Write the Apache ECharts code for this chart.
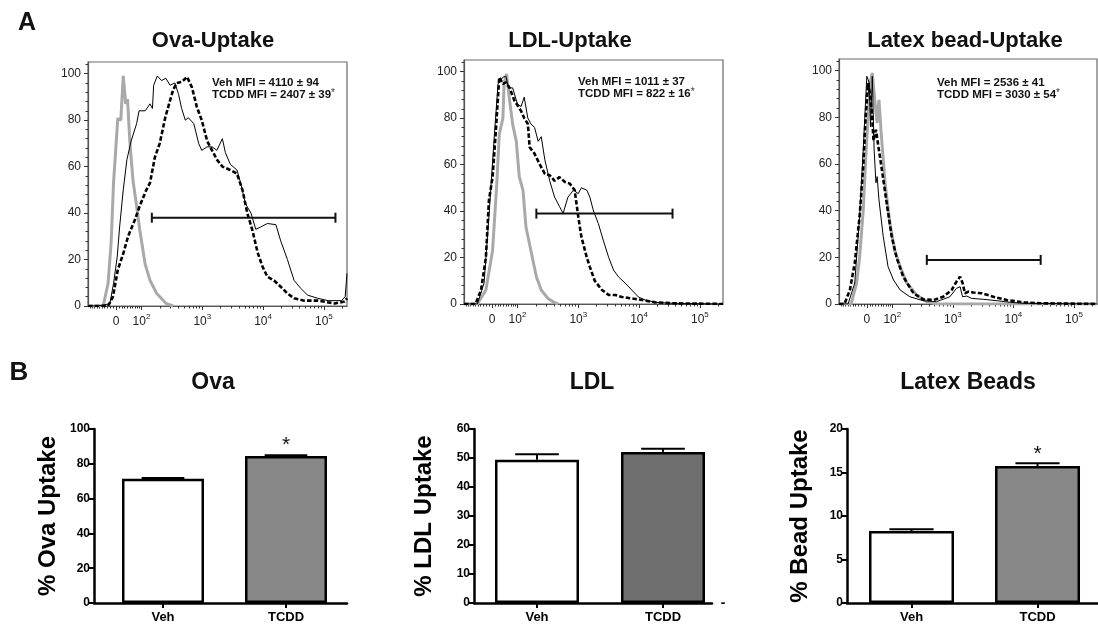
<!DOCTYPE html>
<html><head><meta charset="utf-8">
<script src="https://cdn.jsdelivr.net/npm/echarts@6.0.0/dist/echarts.min.js"></script>
<style>html,body{margin:0;padding:0;background:#fff}#c{width:1098px;height:629px}</style>
</head><body><div id="c"></div>
<script>
const FONT = '"Liberation Sans", Arial, Helvetica, sans-serif';

// ---------- Panel A: histogram data (x = display decade units, y = % of max) ----------
const histTickVals = [1.58, 2, 3, 4, 5];
const histTickLabels = ['0', '10^2', '10^3', '10^4', '10^5'];
const histYTicks = [0, 20, 40, 60, 80, 100];

const ovaCtrl = [[1.12,0],[1.37,0],[1.45,9.7],[1.50,27],[1.54,53],[1.61,80.7],[1.66,80],[1.70,99],[1.74,87],[1.77,89],[1.81,70],[1.86,54],[1.92,43],[1.97,33],[2.06,18],[2.14,11],[2.25,5.4],[2.41,1],[2.52,0]];
const ovaVeh = [[1.12,0],[1.28,0],[1.48,1],[1.54,9.7],[1.60,21],[1.64,34],[1.70,50],[1.76,63],[1.83,71],[1.92,78.5],[1.96,84],[2.06,84],[2.14,87],[2.18,85],[2.20,95],[2.26,99],[2.33,97],[2.40,98],[2.47,95],[2.55,96],[2.61,91],[2.66,85],[2.72,80],[2.77,81],[2.86,78.5],[2.94,70],[2.99,67],[3.08,68.5],[3.16,68.5],[3.24,67],[3.33,72],[3.38,66],[3.46,61],[3.57,58.5],[3.63,53],[3.71,44],[3.80,40],[3.88,33],[3.96,34],[4.07,35.5],[4.21,35],[4.29,28],[4.40,20],[4.51,11],[4.62,7.6],[4.73,4.7],[4.90,3.3],[5.07,2.3],[5.29,2.3],[5.35,4],[5.38,14]];
const ovaTcdd = [[1.12,0],[1.45,0],[1.53,4],[1.61,15.5],[1.70,22.6],[1.78,30],[1.89,37],[1.97,43],[2.08,50],[2.14,53],[2.22,64],[2.30,70],[2.39,81],[2.47,88.5],[2.52,93],[2.58,96],[2.66,96.4],[2.75,98.6],[2.83,94],[2.91,85.7],[2.99,80],[3.08,71],[3.16,67],[3.24,63],[3.33,60],[3.46,58.5],[3.57,57],[3.66,50],[3.74,40],[3.82,33],[3.91,23],[3.99,17],[4.07,12.6],[4.18,11],[4.29,8.3],[4.40,5.4],[4.51,3.3],[4.68,2.3],[4.90,2.3],[5.18,1.1],[5.34,1.9],[5.38,3.3]];
const ovaGate = [2.17, 5.19, 38];
const ovaMfi = ['Veh MFI = 4110 ± 94', 'TCDD MFI = 2407 ± 39'];

const ldlCtrl = [[1.12,0],[1.34,0],[1.48,6],[1.59,23],[1.66,52],[1.70,73],[1.76,80],[1.78,95],[1.82,99],[1.87,87.5],[1.92,77.5],[1.98,70],[2.03,54.6],[2.09,49],[2.14,33],[2.22,23],[2.31,11.7],[2.39,6],[2.50,2.4],[2.61,0.6],[2.67,0]];
const ldlVeh = [[1.12,0],[1.34,0],[1.45,9],[1.53,37.5],[1.62,73],[1.68,94.7],[1.76,97.6],[1.81,98],[1.85,93],[1.92,93],[2.00,86],[2.06,85],[2.11,89],[2.17,80],[2.22,77.5],[2.28,76],[2.34,70],[2.39,72],[2.45,62],[2.53,53],[2.61,46],[2.69,42],[2.75,39],[2.83,46],[2.92,49],[3.00,47.5],[3.05,50],[3.14,49],[3.19,46],[3.25,40],[3.33,34.6],[3.41,27.5],[3.50,20],[3.58,14.6],[3.66,11.7],[3.77,9],[3.88,6],[3.99,3],[4.10,1.7],[4.27,0.7],[4.55,0.3],[5.38,0]];
const ldlTcdd = [[1.12,0],[1.31,0],[1.40,6],[1.48,20],[1.53,44.6],[1.59,54.6],[1.64,73],[1.70,97.6],[1.76,94.7],[1.81,95.4],[1.87,93],[1.95,87.5],[2.06,83],[2.11,80],[2.17,77.5],[2.20,67.5],[2.28,64.7],[2.36,60.4],[2.45,56],[2.53,55.4],[2.61,53],[2.69,54.6],[2.78,52.5],[2.86,51.8],[2.94,49],[3.00,37.5],[3.05,29],[3.14,20],[3.19,16],[3.27,10],[3.39,6],[3.50,3.9],[3.61,3.9],[3.72,3],[3.88,2.4],[4.05,1.7],[4.27,0.7],[4.55,0.3],[5.38,0]];
const ldlGate = [2.31, 4.55, 38.9];
const ldlMfi = ['Veh MFI = 1011 ± 37', 'TCDD MFI = 822 ± 16'];

const latexCtrl = [[1.12,0],[1.32,0],[1.41,9],[1.46,20],[1.52,40],[1.56,62],[1.60,80],[1.63,94.7],[1.67,99],[1.71,87.5],[1.75,77.5],[1.78,87.5],[1.82,72],[1.88,52],[1.96,34.6],[2.04,23],[2.13,16],[2.24,9],[2.40,3.9],[2.57,1],[2.73,0],[5.38,0]];
const latexVeh = [[1.12,0],[1.27,0],[1.38,9],[1.46,37.5],[1.52,66],[1.56,87.5],[1.58,97.6],[1.62,94.7],[1.64,76],[1.67,97.6],[1.70,66],[1.73,52],[1.75,54.6],[1.78,44.6],[1.85,29],[1.93,16],[2.02,10.3],[2.13,6],[2.29,3.1],[2.51,1.4],[2.73,1],[2.95,3.1],[3.06,6.7],[3.12,7.4],[3.16,3.1],[3.23,3.4],[3.31,2.4],[3.51,2],[3.73,1.4],[3.95,0.7],[4.17,0.3],[5.38,0]];
const latexTcdd = [[1.12,0],[1.21,0],[1.30,6],[1.38,17.5],[1.46,37.5],[1.52,59],[1.56,80],[1.60,94.7],[1.63,90.4],[1.66,83],[1.69,70],[1.73,74.7],[1.77,67.5],[1.82,59],[1.90,44.6],[1.99,29],[2.07,20],[2.18,11.7],[2.35,4.6],[2.51,2],[2.68,1.7],[2.84,3.1],[2.98,6],[3.06,9.6],[3.12,11.7],[3.16,9],[3.20,4.6],[3.26,5.3],[3.34,4.9],[3.48,4.6],[3.67,3.1],[3.89,1.7],[4.17,0.7],[4.45,0.3],[5.38,0]];
const latexGate = [2.57, 4.45, 18.9];
const latexMfi = ['Veh MFI = 2536 ± 41', 'TCDD MFI = 3030 ± 54'];

// ---------- Panel B: bar data ----------
const barCats = ['Veh', 'TCDD'];
const ovaPct = [71.4, 84.5];
const ovaErr = [0.4, 0.4];
const ovaSig = [false, true];
const ldlPct = [49.4, 52.1];
const ldlErr = [1.9, 1.1];
const ldlSig = [false, false];
const beadPct = [8.28, 15.75];
const beadErr = [0.2, 0.3];
const beadSig = [false, true];

// ---------- axis decorations ----------
const HX_MIN = 1.12, HX_MAX = 5.38;
const histMinorTicks = [];
[-90,-80,-70,-60,-50,-40,-30,-20,-10,10,20,30,40,50,60,70,80,90].forEach(v => {
  histMinorTicks.push(1.58 + Math.asinh(v / 88.9) / Math.LN10);
});
[2,3,4,5].forEach(k => { for (let m = 2; m <= 9; m++) { const u = k + Math.log10(m); if (u < HX_MAX) histMinorTicks.push(u); } });
histMinorTicks.push(1.16);
const histYMinor = [];
for (let v = 4; v <= 104; v += 4) if (v % 20 !== 0) histYMinor.push(v);

const grids = [], xAxes = [], yAxes = [], series = [], graphics = [];

function fmtHistX(v) {
  let i = -1;
  histTickVals.forEach((t, k) => { if (Math.abs(t - v) < 1e-6) i = k; });
  if (i < 0) return '';
  const lab = histTickLabels[i];
  if (lab.indexOf('^') < 0) return '{n|' + lab + '}';
  const p = lab.split('^');
  return '{n|' + p[0] + '}{s|' + p[1] + '}';
}

function addHist(p) {
  const gi = grids.length;
  grids.push(Object.assign({show: true, borderColor: '#6a6a6a', borderWidth: 1.2, backgroundColor: 'transparent'}, p.grid));
  const xi = xAxes.length;
  xAxes.push({gridIndex: gi, type: 'value', min: HX_MIN, max: HX_MAX, position: 'bottom',
    axisLine: {show: true, onZero: false, lineStyle: {color: '#555', width: 1.2}},
    axisTick: {show: true, customValues: histTickVals, length: 4, lineStyle: {color: '#333', width: 1}},
    axisLabel: {customValues: histTickVals, formatter: fmtHistX, margin: 7,
      rich: {n: {fontFamily: FONT, fontSize: 12, color: '#222', lineHeight: 15, verticalAlign: 'bottom'},
             s: {fontFamily: FONT, fontSize: 8, color: '#222', lineHeight: 15, verticalAlign: 'top'}}},
    splitLine: {show: false}});
  xAxes.push({gridIndex: gi, type: 'value', min: HX_MIN, max: HX_MAX, position: 'bottom',
    axisLine: {show: false}, axisTick: {show: true, customValues: histMinorTicks, length: 2.5, lineStyle: {color: '#333', width: 1}},
    axisLabel: {show: false}, splitLine: {show: false}});
  const yi = yAxes.length;
  yAxes.push({gridIndex: gi, type: 'value', min: 0, max: 105, position: 'left',
    axisLine: {show: true, onZero: false, lineStyle: {color: '#555', width: 1.2}},
    axisTick: {show: true, customValues: histYTicks, length: 4, lineStyle: {color: '#333'}},
    axisLabel: {customValues: histYTicks, fontFamily: FONT, fontSize: 12, color: '#222', margin: 7},
    splitLine: {show: false}});
  yAxes.push({gridIndex: gi, type: 'value', min: 0, max: 105, position: 'left',
    axisLine: {show: false}, axisTick: {show: true, customValues: histYMinor, length: 2.5, lineStyle: {color: '#333'}},
    axisLabel: {show: false}, splitLine: {show: false}});
  const base = {type: 'line', xAxisIndex: xi, yAxisIndex: yi, showSymbol: false, symbol: 'none', silent: true, animation: false, clip: true};
  series.push(Object.assign({}, base, {data: p.ctrl, lineStyle: {color: '#a9a9a9', width: 3}, z: 2}));
  series.push(Object.assign({}, base, {data: p.veh, lineStyle: {color: '#000', width: 1}, z: 3}));
  series.push(Object.assign({}, base, {data: p.tcdd, lineStyle: {color: '#000', width: 2.6, type: [4.5, 2.2]}, z: 4}));
  series.push({type: 'custom', xAxisIndex: xi, yAxisIndex: yi, silent: true, animation: false, z: 5,
    encode: {x: [0, 1], y: 2}, data: [p.gate],
    renderItem: (params, api) => {
      const a = api.coord([api.value(0), api.value(2)]);
      const b = api.coord([api.value(1), api.value(2)]);
      const st = {stroke: '#111', lineWidth: 2};
      return {type: 'group', children: [
        {type: 'line', shape: {x1: a[0], y1: a[1], x2: b[0], y2: b[1]}, style: st},
        {type: 'line', shape: {x1: a[0], y1: a[1] - 5, x2: a[0], y2: a[1] + 5}, style: st},
        {type: 'line', shape: {x1: b[0], y1: b[1] - 5, x2: b[0], y2: b[1] + 5}, style: st}]};
    }});
  graphics.push({type: 'text', x: p.titleX, y: 41, style: {text: p.title, font: 'bold 22px ' + FONT, fill: '#111', align: 'center', verticalAlign: 'middle'}});
  graphics.push({type: 'text', x: p.mfiX, y: p.mfiY, style: {text: p.mfi[0], font: 'bold 11.5px ' + FONT, fill: '#111', align: 'left', verticalAlign: 'middle'}});
  graphics.push({type: 'text', x: p.mfiX, y: p.mfiY + 11.5, style: {
    text: '{b|' + p.mfi[1] + '}{a|*}', align: 'left', verticalAlign: 'middle',
    rich: {b: {font: 'bold 11.5px ' + FONT, fill: '#111'}, a: {font: '10px ' + FONT, fill: '#333', verticalAlign: 'top'}}}});
}

function addBar(p) {
  const gi = grids.length;
  grids.push(Object.assign({show: false}, p.grid));
  const xi = xAxes.length;
  xAxes.push({gridIndex: gi, type: 'value', min: p.xMin, max: p.xMax, position: 'bottom',
    axisLine: {show: true, onZero: false, lineStyle: {color: '#000', width: 2.5}},
    axisTick: {show: true, customValues: [1, 2], length: 5, lineStyle: {color: '#000', width: 2}},
    axisLabel: {customValues: [1, 2], formatter: v => barCats[Math.round(v) - 1] || '', fontFamily: FONT, fontWeight: 'bold', fontSize: 13, color: '#000', margin: 8},
    splitLine: {show: false}});
  const yi = yAxes.length;
  yAxes.push({gridIndex: gi, type: 'value', min: 0, max: p.yMax, interval: p.yInt, position: 'left',
    axisLine: {show: true, onZero: false, lineStyle: {color: '#000', width: 2.5}},
    axisTick: {show: true, length: 5, lineStyle: {color: '#000', width: 2}},
    axisLabel: {fontFamily: FONT, fontWeight: 'bold', fontSize: 12, color: '#000', margin: 4},
    name: p.yName, nameLocation: 'middle', nameGap: p.nameGap, nameRotate: 90,
    nameTextStyle: {fontFamily: FONT, fontWeight: 'bold', fontSize: 24, color: '#000'},
    splitLine: {show: false}});
  series.push({type: 'bar', xAxisIndex: xi, yAxisIndex: yi, barWidth: p.barWidth, silent: true, animation: false, z: 2,
    itemStyle: {borderColor: '#000', borderWidth: 2.5},
    data: p.vals.map((v, i) => ({value: [i + 1, v],
      itemStyle: {color: i === 0 ? '#ffffff' : p.color},
      label: {show: p.sig[i], position: 'top', distance: p.starGap, formatter: '*', fontFamily: FONT, fontSize: 21, color: '#111'}}))});
  series.push({type: 'custom', xAxisIndex: xi, yAxisIndex: yi, silent: true, animation: false, z: 3,
    encode: {x: 0, y: 1}, data: p.vals.map((v, i) => [i + 1, v, p.errs[i]]),
    renderItem: (params, api) => {
      const a = api.coord([api.value(0), api.value(1)]);
      const b = api.coord([api.value(0), api.value(1) + api.value(2)]);
      const st = {stroke: '#000', lineWidth: 2};
      const hw = p.barWidth * 0.26;
      return {type: 'group', children: [
        {type: 'line', shape: {x1: a[0], y1: a[1], x2: b[0], y2: b[1]}, style: st},
        {type: 'line', shape: {x1: b[0] - hw, y1: b[1], x2: b[0] + hw, y2: b[1]}, style: st}]};
    }});
  graphics.push({type: 'text', x: p.titleX, y: 383, style: {text: p.title, font: 'bold 23px ' + FONT, fill: '#111', align: 'center', verticalAlign: 'middle'}});
}

addHist({title: 'Ova-Uptake', ctrl: ovaCtrl, veh: ovaVeh, tcdd: ovaTcdd, gate: ovaGate, mfi: ovaMfi,
  grid: {left: 88, top: 62, width: 259, height: 244}, titleX: 213, mfiX: 212, mfiY: 83});
addHist({title: 'LDL-Uptake', ctrl: ldlCtrl, veh: ldlVeh, tcdd: ldlTcdd, gate: ldlGate, mfi: ldlMfi,
  grid: {left: 464, top: 60, width: 259, height: 244}, titleX: 570, mfiX: 578, mfiY: 82});
addHist({title: 'Latex bead-Uptake', ctrl: latexCtrl, veh: latexVeh, tcdd: latexTcdd, gate: latexGate, mfi: latexMfi,
  grid: {left: 839, top: 59, width: 258, height: 245}, titleX: 965, mfiX: 937, mfiY: 83});

addBar({title: 'Ova', vals: ovaPct, errs: ovaErr, sig: ovaSig, color: '#878787', yMax: 100, yInt: 20, yName: '% Ova Uptake', nameGap: 34,
  grid: {left: 94, top: 429, width: 253, height: 174}, xMin: 0.439, xMax: 2.496, barWidth: 82, titleX: 213, starGap: 0});
addBar({title: 'LDL', vals: ldlPct, errs: ldlErr, sig: ldlSig, color: '#6e6e6e', yMax: 60, yInt: 10, yName: '% LDL Uptake', nameGap: 38,
  grid: {left: 474, top: 429, width: 238, height: 174}, xMin: 0.5, xMax: 2.389, barWidth: 84, titleX: 592, starGap: 0});
addBar({title: 'Latex Beads', vals: beadPct, errs: beadErr, sig: beadSig, color: '#888888', yMax: 20, yInt: 5, yName: '% Bead Uptake', nameGap: 35,
  grid: {left: 847, top: 429, width: 251, height: 174}, xMin: 0.488, xMax: 2.48, barWidth: 85, titleX: 968, starGap: 1});

graphics.push({type: 'text', x: 27, y: 23, style: {text: 'A', font: 'bold 25px ' + FONT, fill: '#111', align: 'center', verticalAlign: 'middle'}});
graphics.push({type: 'text', x: 19, y: 373, style: {text: 'B', font: 'bold 26px ' + FONT, fill: '#111', align: 'center', verticalAlign: 'middle'}});
graphics.push({type: 'text', x: 723, y: 603, style: {text: '-', font: 'bold 14px ' + FONT, fill: '#111', align: 'center', verticalAlign: 'middle'}});

const chart = echarts.init(document.getElementById('c'), null, {renderer: 'canvas'});
chart.setOption({animation: false, backgroundColor: '#fff', grid: grids, xAxis: xAxes, yAxis: yAxes, series: series, graphic: graphics});
</script></body></html>
